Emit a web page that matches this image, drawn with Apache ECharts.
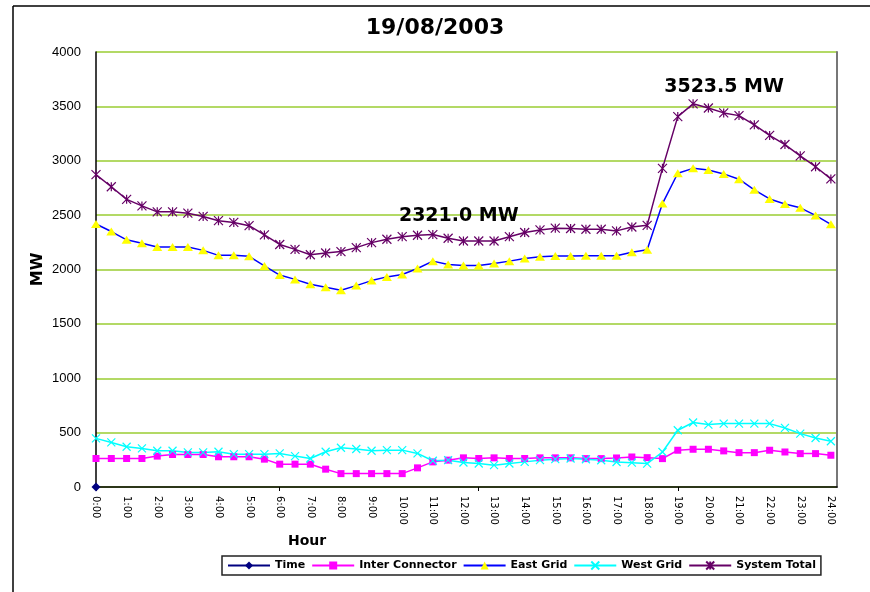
<!DOCTYPE html>
<html>
<head>
<meta charset="utf-8">
<title>19/08/2003</title>
<script src="https://cdn.jsdelivr.net/npm/echarts@6/dist/echarts.min.js"></script>
<style>
  html, body { margin: 0; padding: 0; background: #fff; }
  #chart { width: 870px; height: 592px; }
</style>
</head>
<body>
<div id="chart"></div>
<script>
// half-hourly readings, index 0 = 0:00 ... index 48 = 24:00
const hourLabels = [
  '0:00', '1:00', '2:00', '3:00', '4:00', '5:00', '6:00', '7:00', '8:00',
  '9:00', '10:00', '11:00', '12:00', '13:00', '14:00', '15:00', '16:00',
  '17:00', '18:00', '19:00', '20:00', '21:00', '22:00', '23:00', '24:00',
]

const timeValues = [0]

const interConnector = [
  262, 262, 262, 262, 284, 299, 299, 299, 278, 278, 278, 256, 210, 210, 210, 164,
  123, 123, 123, 123, 123, 176, 231, 247, 268, 262, 268, 262, 262, 268, 268, 268,
  261, 261, 267, 276, 270, 261, 338, 347, 347, 332, 316, 316, 338, 322, 307, 307,
  292,
]

const eastGrid = [
  2418, 2349, 2273, 2242, 2206, 2206, 2206, 2176, 2130, 2130, 2121, 2033, 1949, 1909, 1864, 1836,
  1810, 1852, 1898, 1932, 1954, 2009, 2077, 2046, 2037, 2037, 2056, 2077, 2102, 2117, 2123, 2123,
  2127, 2127, 2127, 2158, 2182, 2606, 2885, 2930, 2915, 2879, 2830, 2733, 2649, 2603, 2567, 2497,
  2415,
]

const westGrid = [
  447, 410, 370, 355, 333, 333, 318, 318, 324, 302, 302, 302, 309, 284, 262, 324,
  361, 349, 333, 339, 339, 309, 241, 247, 225, 216, 201, 216, 231, 247, 256, 262,
  255, 246, 230, 224, 215, 322, 522, 593, 574, 583, 583, 583, 583, 543, 491, 451,
  421,
]

const systemTotal = [
  2873, 2761, 2645, 2585, 2530, 2530, 2518, 2488, 2449, 2433, 2403, 2318, 2230, 2185, 2136, 2152,
  2165, 2201, 2247, 2278, 2302, 2315, 2321, 2287, 2262, 2262, 2262, 2302, 2340, 2364, 2380, 2377,
  2370, 2370, 2355, 2391, 2406, 2930, 3406, 3523.5, 3485, 3440, 3415, 3330, 3233, 3149, 3045, 2945,
  2833,
]

const arial = 'Arial, "Liberation Sans", sans-serif'
const wide = '"DejaVu Sans", Verdana, sans-serif'
const starPath = 'path://M0,0L10,10M10,0L0,10M5,0L5,10'
const crossPath = 'path://M0,0L10,10M10,0L0,10'

const toPoints = (values) => values.map((v, i) => [i, v])

const chart = echarts.init(document.getElementById('chart'))

const option = {
  animation: false,
  backgroundColor: '#fff',
  title: {
    text: '19/08/2003',
    left: 'center',
    top: 12,
    textStyle: { fontFamily: wide, fontSize: 22, fontWeight: 'bold', color: '#000' },
  },
  grid: { left: 96, right: 33, top: 52, bottom: 105 },
  legend: {
    left: 222,
    top: 556,
    itemWidth: 42,
    itemHeight: 10,
    itemGap: 6,
    padding: [4, 5],
    borderColor: '#222',
    borderWidth: 1.5,
    textStyle: { fontFamily: wide, fontSize: 11, fontWeight: 'bold', color: '#000' },
    data: ['Time', 'Inter Connector', 'East Grid', 'West Grid', 'System Total'],
  },
  xAxis: {
    type: 'value',
    min: 0,
    max: 48.4,
    axisLine: { lineStyle: { color: '#000', width: 1.5 } },
    axisTick: {
      show: true,
      customValues: [0, 12, 25, 38],
      length: 4,
      lineStyle: { color: '#000' },
    },
    axisLabel: {
      customValues: hourLabels.map((_, i) => i * 2),
      formatter: (v) => hourLabels[v / 2],
      rotate: -90,
      margin: 9,
      fontFamily: wide,
      fontSize: 10,
      color: '#000',
    },
    splitLine: { show: false },
  },
  yAxis: [
    {
      type: 'value',
      min: 0,
      max: 4000,
      interval: 500,
      name: 'MW',
      nameLocation: 'middle',
      nameGap: 50,
      nameMoveOverlap: false,
      nameRotate: 90,
      nameTextStyle: { fontFamily: wide, fontSize: 16, fontWeight: 'bold', color: '#000' },
      axisLine: { show: true, lineStyle: { color: '#000', width: 1.5 } },
      axisTick: { show: false },
      axisLabel: {
        formatter: (v) => String(v),
        fontFamily: arial,
        fontSize: 13,
        color: '#000',
        margin: 15,
      },
      splitLine: { lineStyle: { color: '#9ACD32', width: 1.5 } },
    },
    {
      type: 'value',
      position: 'right',
      min: 0,
      max: 4000,
      interval: 500,
      axisLine: { show: true, lineStyle: { color: '#777', width: 2 } },
      axisTick: { show: false },
      axisLabel: { show: false },
      splitLine: { show: false },
    },
  ],
  graphic: [
    {
      type: 'text',
      left: 288,
      top: 534,
      style: { text: 'Hour', fontFamily: wide, fontSize: 14, fontWeight: 'bold', fill: '#000' },
    },
    {
      type: 'line',
      shape: { x1: 13, y1: 6, x2: 13, y2: 592 },
      style: { stroke: '#000', lineWidth: 1.5 },
    },
    {
      type: 'line',
      shape: { x1: 13, y1: 6, x2: 870, y2: 6 },
      style: { stroke: '#000', lineWidth: 1.5 },
    },
  ],
  series: [
    {
      name: 'Time',
      type: 'line',
      data: toPoints(timeValues),
      symbol: 'diamond',
      symbolSize: 9,
      itemStyle: { color: '#000080' },
      lineStyle: { color: '#000080', width: 1.5 },
    },
    {
      name: 'Inter Connector',
      type: 'line',
      data: toPoints(interConnector),
      symbol: 'rect',
      symbolSize: 7,
      itemStyle: { color: '#FF00FF' },
      lineStyle: { color: '#FF00FF', width: 1.5 },
    },
    {
      name: 'East Grid',
      type: 'line',
      data: toPoints(eastGrid),
      symbol: 'triangle',
      symbolSize: [10, 8],
      itemStyle: { color: '#FFFF00' },
      lineStyle: { color: '#0000FF', width: 1.5 },
    },
    {
      name: 'West Grid',
      type: 'line',
      data: toPoints(westGrid),
      symbol: crossPath,
      symbolSize: 8,
      itemStyle: { color: '#00FFFF', borderColor: '#00FFFF', borderWidth: 1.2 },
      lineStyle: { color: '#00FFFF', width: 1.5 },
    },
    {
      name: 'System Total',
      type: 'line',
      data: toPoints(systemTotal),
      symbol: starPath,
      symbolSize: 9,
      itemStyle: { color: '#660066', borderColor: '#660066', borderWidth: 1.2 },
      lineStyle: { color: '#660066', width: 1.5 },
      markPoint: {
        symbol: 'circle',
        symbolSize: 0,
        label: {
          show: true,
          formatter: (p) => p.value.toFixed(1) + ' MW',
          fontFamily: wide,
          fontSize: 19,
          fontWeight: 'bold',
          color: '#000',
        },
        data: [
          { coord: [22, systemTotal[22]], value: systemTotal[22], label: { offset: [26, -19] } },
          { coord: [39, systemTotal[39]], value: systemTotal[39], label: { offset: [31, -17] } },
        ],
      },
    },
  ],
}

chart.setOption(option)
</script>
</body>
</html>
